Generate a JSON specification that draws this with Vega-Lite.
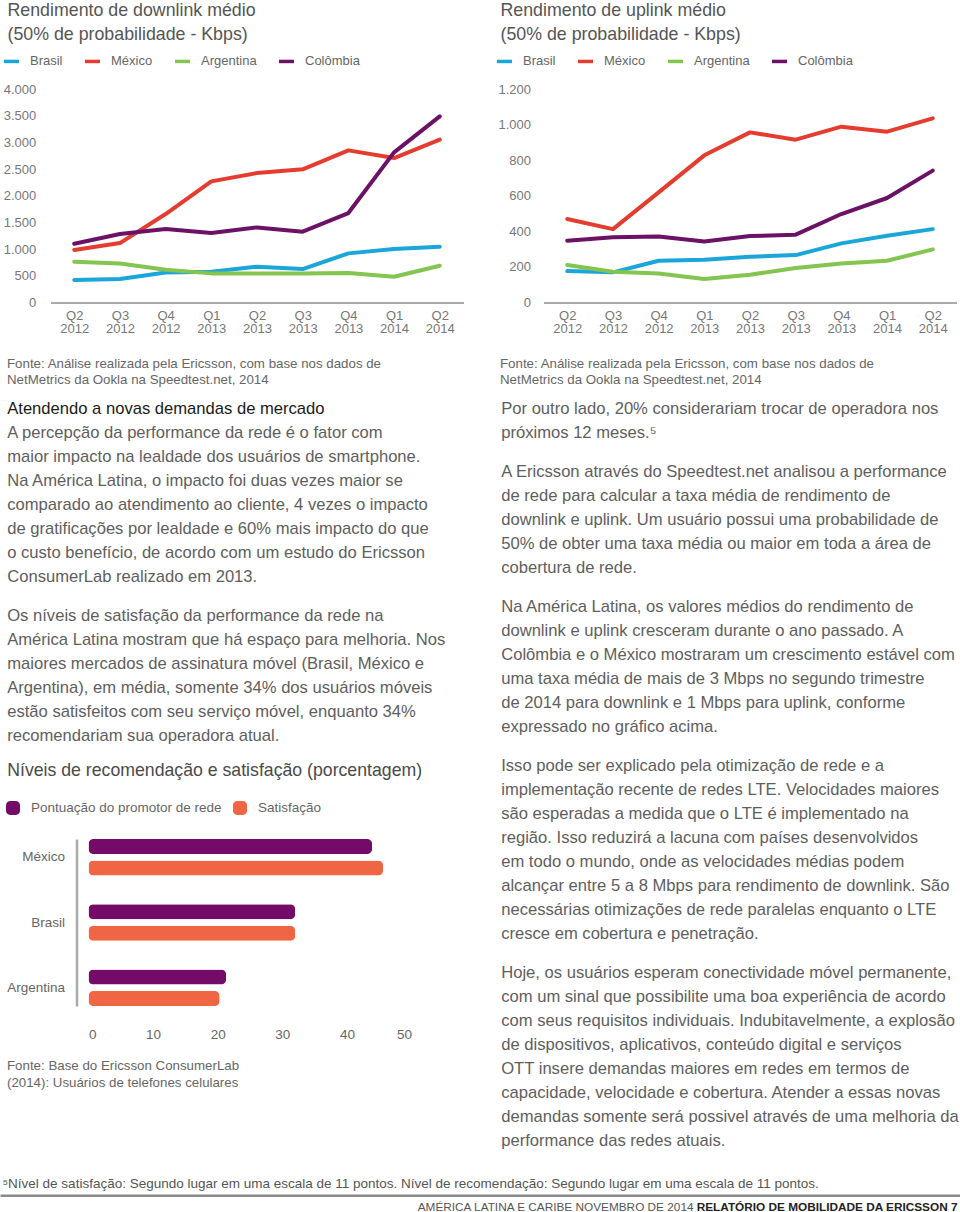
{
  "$schema": "https://vega.github.io/schema/vega-lite/v6.json",
  "padding": {"left": -1.5, "top": 1, "right": 0, "bottom": 0},
  "background": "white",
  "config": {"view": {"stroke": null}, "font": "Liberation Sans", "axis": {"grid": false}},
  "bounds": "flush",
  "spacing": 0,
  "resolve": {"scale": {"color": "independent"}, "legend": {"color": "independent"}},
  "vconcat": [
    {
      "bounds": "flush",
      "spacing": 0,
      "resolve": {"scale": {"color": "independent"}, "legend": {"color": "independent"}},
      "hconcat": [
        {"width": 50, "height": 10, "data": {"values": [{"v": 1}]}, "mark": {"type": "point", "opacity": 0}, "encoding": {}},
        {
          "width": 413,
          "height": 213.4,
          "title": {"text": ["Rendimento de downlink médio", "(50% de probabilidade - Kbps)"], "anchor": "start", "frame": "group", "dx": -43, "fontSize": 17.8, "fontWeight": "normal", "color": "#555555", "lineHeight": 24, "offset": 8},
          "data": {"values": [
            {"pais": "Brasil", "trimestre": "Q2 2012", "kbps": 419}, {"pais": "Brasil", "trimestre": "Q3 2012", "kbps": 437}, {"pais": "Brasil", "trimestre": "Q4 2012", "kbps": 562}, {"pais": "Brasil", "trimestre": "Q1 2013", "kbps": 575}, {"pais": "Brasil", "trimestre": "Q2 2013", "kbps": 669}, {"pais": "Brasil", "trimestre": "Q3 2013", "kbps": 625}, {"pais": "Brasil", "trimestre": "Q4 2013", "kbps": 919}, {"pais": "Brasil", "trimestre": "Q1 2014", "kbps": 1000}, {"pais": "Brasil", "trimestre": "Q2 2014", "kbps": 1044},
            {"pais": "Argentina", "trimestre": "Q2 2012", "kbps": 762}, {"pais": "Argentina", "trimestre": "Q3 2012", "kbps": 731}, {"pais": "Argentina", "trimestre": "Q4 2012", "kbps": 612}, {"pais": "Argentina", "trimestre": "Q1 2013", "kbps": 544}, {"pais": "Argentina", "trimestre": "Q2 2013", "kbps": 544}, {"pais": "Argentina", "trimestre": "Q3 2013", "kbps": 544}, {"pais": "Argentina", "trimestre": "Q4 2013", "kbps": 550}, {"pais": "Argentina", "trimestre": "Q1 2014", "kbps": 481}, {"pais": "Argentina", "trimestre": "Q2 2014", "kbps": 687},
            {"pais": "México", "trimestre": "Q2 2012", "kbps": 981}, {"pais": "México", "trimestre": "Q3 2012", "kbps": 1112}, {"pais": "México", "trimestre": "Q4 2012", "kbps": 1656}, {"pais": "México", "trimestre": "Q1 2013", "kbps": 2269}, {"pais": "México", "trimestre": "Q2 2013", "kbps": 2425}, {"pais": "México", "trimestre": "Q3 2013", "kbps": 2494}, {"pais": "México", "trimestre": "Q4 2013", "kbps": 2850}, {"pais": "México", "trimestre": "Q1 2014", "kbps": 2706}, {"pais": "México", "trimestre": "Q2 2014", "kbps": 3050},
            {"pais": "Colômbia", "trimestre": "Q2 2012", "kbps": 1100}, {"pais": "Colômbia", "trimestre": "Q3 2012", "kbps": 1281}, {"pais": "Colômbia", "trimestre": "Q4 2012", "kbps": 1375}, {"pais": "Colômbia", "trimestre": "Q1 2013", "kbps": 1300}, {"pais": "Colômbia", "trimestre": "Q2 2013", "kbps": 1406}, {"pais": "Colômbia", "trimestre": "Q3 2013", "kbps": 1325}, {"pais": "Colômbia", "trimestre": "Q4 2013", "kbps": 1675}, {"pais": "Colômbia", "trimestre": "Q1 2014", "kbps": 2812}, {"pais": "Colômbia", "trimestre": "Q2 2014", "kbps": 3487}
          ]},
          "mark": {"type": "line", "strokeWidth": 4, "strokeCap": "round", "strokeJoin": "round"},
          "encoding": {
            "x": {"field": "trimestre", "type": "ordinal", "sort": ["Q2 2012", "Q3 2012", "Q4 2012", "Q1 2013", "Q2 2013", "Q3 2013", "Q4 2013", "Q1 2014", "Q2 2014"], "scale": {"type": "point", "padding": 0.52},
              "axis": {"labelExpr": "split(datum.label, ' ')", "labelAngle": 0, "labelFontSize": 13, "labelColor": "#777777", "labelLineHeight": 13.5, "labelPadding": 7, "ticks": false, "domainColor": "#aaaaaa", "domainWidth": 2,
                "title": ["Fonte: Análise realizada pela Ericsson, com base nos dados de", "NetMetrics da Ookla na Speedtest.net, 2014"], "titleX": -44, "titleY": 54, "titleAlign": "left", "titleAnchor": "start", "titleBaseline": "top", "titleFontWeight": "normal", "titleFontSize": 13.3, "titleColor": "#666666", "titleLineHeight": 16.5}},
            "y": {"field": "kbps", "type": "quantitative", "scale": {"domain": [0, 4000], "nice": false},
              "axis": {"values": [0, 500, 1000, 1500, 2000, 2500, 3000, 3500, 4000], "labelExpr": "replace(format(datum.value, ','), ',', '.')", "domain": false, "ticks": false, "labelPadding": 14.7, "labelFontSize": 13, "labelColor": "#777777", "title": null}},
            "color": {"field": "pais", "type": "nominal", "scale": {"domain": ["Brasil", "México", "Argentina", "Colômbia"], "range": ["#1ba6d9", "#e43d2f", "#84c450", "#6c1266"]},
              "legend": {"orient": "none", "legendX": -48.5, "legendY": -37.3, "direction": "horizontal", "title": null, "symbolType": "stroke", "symbolStrokeWidth": 3.5, "symbolSize": 225, "labelFontSize": 13, "labelColor": "#666666", "labelOffset": 9, "columnPadding": 15}}
          }
        },
        {"width": 80, "height": 10, "data": {"values": [{"v": 1}]}, "mark": {"type": "point", "opacity": 0}, "encoding": {}},
        {
          "width": 413,
          "height": 213.4,
          "title": {"text": ["Rendimento de uplink médio", "(50% de probabilidade - Kbps)"], "anchor": "start", "frame": "group", "dx": -43, "fontSize": 17.8, "fontWeight": "normal", "color": "#555555", "lineHeight": 24, "offset": 8},
          "data": {"values": [
            {"pais": "Brasil", "trimestre": "Q2 2012", "kbps": 176}, {"pais": "Brasil", "trimestre": "Q3 2012", "kbps": 169}, {"pais": "Brasil", "trimestre": "Q4 2012", "kbps": 234}, {"pais": "Brasil", "trimestre": "Q1 2013", "kbps": 240}, {"pais": "Brasil", "trimestre": "Q2 2013", "kbps": 257}, {"pais": "Brasil", "trimestre": "Q3 2013", "kbps": 266}, {"pais": "Brasil", "trimestre": "Q4 2013", "kbps": 332}, {"pais": "Brasil", "trimestre": "Q1 2014", "kbps": 375}, {"pais": "Brasil", "trimestre": "Q2 2014", "kbps": 412},
            {"pais": "Argentina", "trimestre": "Q2 2012", "kbps": 210}, {"pais": "Argentina", "trimestre": "Q3 2012", "kbps": 172}, {"pais": "Argentina", "trimestre": "Q4 2012", "kbps": 163}, {"pais": "Argentina", "trimestre": "Q1 2013", "kbps": 131}, {"pais": "Argentina", "trimestre": "Q2 2013", "kbps": 156}, {"pais": "Argentina", "trimestre": "Q3 2013", "kbps": 193}, {"pais": "Argentina", "trimestre": "Q4 2013", "kbps": 219}, {"pais": "Argentina", "trimestre": "Q1 2014", "kbps": 234}, {"pais": "Argentina", "trimestre": "Q2 2014", "kbps": 298},
            {"pais": "México", "trimestre": "Q2 2012", "kbps": 469}, {"pais": "México", "trimestre": "Q3 2012", "kbps": 412}, {"pais": "México", "trimestre": "Q4 2012", "kbps": 619}, {"pais": "México", "trimestre": "Q1 2013", "kbps": 827}, {"pais": "México", "trimestre": "Q2 2013", "kbps": 956}, {"pais": "México", "trimestre": "Q3 2013", "kbps": 915}, {"pais": "México", "trimestre": "Q4 2013", "kbps": 988}, {"pais": "México", "trimestre": "Q1 2014", "kbps": 960}, {"pais": "México", "trimestre": "Q2 2014", "kbps": 1035},
            {"pais": "Colômbia", "trimestre": "Q2 2012", "kbps": 347}, {"pais": "Colômbia", "trimestre": "Q3 2012", "kbps": 366}, {"pais": "Colômbia", "trimestre": "Q4 2012", "kbps": 371}, {"pais": "Colômbia", "trimestre": "Q1 2013", "kbps": 343}, {"pais": "Colômbia", "trimestre": "Q2 2013", "kbps": 373}, {"pais": "Colômbia", "trimestre": "Q3 2013", "kbps": 381}, {"pais": "Colômbia", "trimestre": "Q4 2013", "kbps": 497}, {"pais": "Colômbia", "trimestre": "Q1 2014", "kbps": 587}, {"pais": "Colômbia", "trimestre": "Q2 2014", "kbps": 741}
          ]},
          "mark": {"type": "line", "strokeWidth": 4, "strokeCap": "round", "strokeJoin": "round"},
          "encoding": {
            "x": {"field": "trimestre", "type": "ordinal", "sort": ["Q2 2012", "Q3 2012", "Q4 2012", "Q1 2013", "Q2 2013", "Q3 2013", "Q4 2013", "Q1 2014", "Q2 2014"], "scale": {"type": "point", "padding": 0.52},
              "axis": {"labelExpr": "split(datum.label, ' ')", "labelAngle": 0, "labelFontSize": 13, "labelColor": "#777777", "labelLineHeight": 13.5, "labelPadding": 7, "ticks": false, "domainColor": "#aaaaaa", "domainWidth": 2,
                "title": ["Fonte: Análise realizada pela Ericsson, com base nos dados de", "NetMetrics da Ookla na Speedtest.net, 2014"], "titleX": -44, "titleY": 54, "titleAlign": "left", "titleAnchor": "start", "titleBaseline": "top", "titleFontWeight": "normal", "titleFontSize": 13.3, "titleColor": "#666666", "titleLineHeight": 16.5}},
            "y": {"field": "kbps", "type": "quantitative", "scale": {"domain": [0, 1200], "nice": false},
              "axis": {"values": [0, 200, 400, 600, 800, 1000, 1200], "labelExpr": "replace(format(datum.value, ','), ',', '.')", "domain": false, "ticks": false, "labelPadding": 13, "labelFontSize": 13, "labelColor": "#777777", "title": null}},
            "color": {"field": "pais", "type": "nominal", "scale": {"domain": ["Brasil", "México", "Argentina", "Colômbia"], "range": ["#1ba6d9", "#e43d2f", "#84c450", "#6c1266"]},
              "legend": {"orient": "none", "legendX": -48.5, "legendY": -37.3, "direction": "horizontal", "title": null, "symbolType": "stroke", "symbolStrokeWidth": 3.5, "symbolSize": 225, "labelFontSize": 13, "labelColor": "#666666", "labelOffset": 9, "columnPadding": 15}}
          }
        }
      ]
    },
    {
      "width": 960,
      "height": 749.4,
      "data": {"values": [
        {"coluna": "esquerda", "paragrafo": 1, "linha": 1, "tipo": "destaque", "texto": "Atendendo a novas demandas de mercado"},
        {"coluna": "esquerda", "paragrafo": 1, "linha": 2, "tipo": "corpo", "texto": "A percepção da performance da rede é o fator com"},
        {"coluna": "esquerda", "paragrafo": 1, "linha": 3, "tipo": "corpo", "texto": "maior impacto na lealdade dos usuários de smartphone."},
        {"coluna": "esquerda", "paragrafo": 1, "linha": 4, "tipo": "corpo", "texto": "Na América Latina, o impacto foi duas vezes maior se"},
        {"coluna": "esquerda", "paragrafo": 1, "linha": 5, "tipo": "corpo", "texto": "comparado ao atendimento ao cliente, 4 vezes o impacto"},
        {"coluna": "esquerda", "paragrafo": 1, "linha": 6, "tipo": "corpo", "texto": "de gratificações por lealdade e 60% mais impacto do que"},
        {"coluna": "esquerda", "paragrafo": 1, "linha": 7, "tipo": "corpo", "texto": "o custo benefício, de acordo com um estudo do Ericsson"},
        {"coluna": "esquerda", "paragrafo": 1, "linha": 8, "tipo": "corpo", "texto": "ConsumerLab realizado em 2013."},
        {"coluna": "esquerda", "paragrafo": 2, "linha": 9, "tipo": "corpo", "texto": "Os níveis de satisfação da performance da rede na"},
        {"coluna": "esquerda", "paragrafo": 2, "linha": 10, "tipo": "corpo", "texto": "América Latina mostram que há espaço para melhoria. Nos"},
        {"coluna": "esquerda", "paragrafo": 2, "linha": 11, "tipo": "corpo", "texto": "maiores mercados de assinatura móvel (Brasil, México e"},
        {"coluna": "esquerda", "paragrafo": 2, "linha": 12, "tipo": "corpo", "texto": "Argentina), em média, somente 34% dos usuários móveis"},
        {"coluna": "esquerda", "paragrafo": 2, "linha": 13, "tipo": "corpo", "texto": "estão satisfeitos com seu serviço móvel, enquanto 34%"},
        {"coluna": "esquerda", "paragrafo": 2, "linha": 14, "tipo": "corpo", "texto": "recomendariam sua operadora atual."},
        {"coluna": "esquerda", "paragrafo": 3, "linha": 15, "tipo": "titulo", "texto": "Níveis de recomendação e satisfação (porcentagem)"},
        {"coluna": "direita", "paragrafo": 1, "linha": 1, "tipo": "corpo", "texto": "Por outro lado, 20%  considerariam trocar de operadora nos"},
        {"coluna": "direita", "paragrafo": 1, "linha": 2, "tipo": "corpo", "texto": "próximos 12 meses.⁵"},
        {"coluna": "direita", "paragrafo": 2, "linha": 3, "tipo": "corpo", "texto": "A Ericsson através do Speedtest.net analisou a performance"},
        {"coluna": "direita", "paragrafo": 2, "linha": 4, "tipo": "corpo", "texto": "de rede para calcular a taxa média de rendimento de"},
        {"coluna": "direita", "paragrafo": 2, "linha": 5, "tipo": "corpo", "texto": "downlink e uplink. Um usuário possui uma probabilidade de"},
        {"coluna": "direita", "paragrafo": 2, "linha": 6, "tipo": "corpo", "texto": "50% de obter uma taxa média ou maior em toda a área de"},
        {"coluna": "direita", "paragrafo": 2, "linha": 7, "tipo": "corpo", "texto": "cobertura de rede."},
        {"coluna": "direita", "paragrafo": 3, "linha": 8, "tipo": "corpo", "texto": "Na América Latina, os valores médios do rendimento de"},
        {"coluna": "direita", "paragrafo": 3, "linha": 9, "tipo": "corpo", "texto": "downlink e uplink cresceram durante o ano passado. A"},
        {"coluna": "direita", "paragrafo": 3, "linha": 10, "tipo": "corpo", "texto": "Colômbia e o México mostraram um crescimento estável com"},
        {"coluna": "direita", "paragrafo": 3, "linha": 11, "tipo": "corpo", "texto": "uma taxa média de mais de 3 Mbps no segundo trimestre"},
        {"coluna": "direita", "paragrafo": 3, "linha": 12, "tipo": "corpo", "texto": "de 2014 para downlink e 1 Mbps para uplink, conforme"},
        {"coluna": "direita", "paragrafo": 3, "linha": 13, "tipo": "corpo", "texto": "expressado no gráfico acima."},
        {"coluna": "direita", "paragrafo": 4, "linha": 14, "tipo": "corpo", "texto": "Isso pode ser explicado pela otimização de rede e a"},
        {"coluna": "direita", "paragrafo": 4, "linha": 15, "tipo": "corpo", "texto": "implementação recente de redes LTE. Velocidades maiores"},
        {"coluna": "direita", "paragrafo": 4, "linha": 16, "tipo": "corpo", "texto": "são esperadas a medida que o LTE é implementado na"},
        {"coluna": "direita", "paragrafo": 4, "linha": 17, "tipo": "corpo", "texto": "região. Isso reduzirá a lacuna com países desenvolvidos"},
        {"coluna": "direita", "paragrafo": 4, "linha": 18, "tipo": "corpo", "texto": "em todo o mundo, onde as velocidades médias podem"},
        {"coluna": "direita", "paragrafo": 4, "linha": 19, "tipo": "corpo", "texto": "alcançar entre 5 a 8 Mbps para rendimento de downlink. São"},
        {"coluna": "direita", "paragrafo": 4, "linha": 20, "tipo": "corpo", "texto": "necessárias otimizações de rede paralelas enquanto o LTE"},
        {"coluna": "direita", "paragrafo": 4, "linha": 21, "tipo": "corpo", "texto": "cresce em cobertura e penetração."},
        {"coluna": "direita", "paragrafo": 5, "linha": 22, "tipo": "corpo", "texto": "Hoje, os usuários esperam conectividade móvel permanente,"},
        {"coluna": "direita", "paragrafo": 5, "linha": 23, "tipo": "corpo", "texto": "com um sinal que possibilite uma boa experiência de acordo"},
        {"coluna": "direita", "paragrafo": 5, "linha": 24, "tipo": "corpo", "texto": "com seus requisitos individuais. Indubitavelmente, a explosão"},
        {"coluna": "direita", "paragrafo": 5, "linha": 25, "tipo": "corpo", "texto": "de dispositivos, aplicativos, conteúdo digital e serviços"},
        {"coluna": "direita", "paragrafo": 5, "linha": 26, "tipo": "corpo", "texto": "OTT insere demandas maiores em redes em termos de"},
        {"coluna": "direita", "paragrafo": 5, "linha": 27, "tipo": "corpo", "texto": "capacidade, velocidade e cobertura. Atender a essas novas"},
        {"coluna": "direita", "paragrafo": 5, "linha": 28, "tipo": "corpo", "texto": "demandas somente será possivel através de uma melhoria da"},
        {"coluna": "direita", "paragrafo": 5, "linha": 29, "tipo": "corpo", "texto": "performance das redes atuais."}
      ]},
      "encoding": {
        "x": {"field": "coluna", "type": "nominal", "scale": {"type": "point", "domain": ["esquerda", "direita"], "range": [6.7, 500.7], "padding": 0}, "axis": null},
        "y": {"field": "linha", "type": "ordinal", "scale": {"type": "point", "domain": [1,2,3,4,5,6,7,8,9,10,11,12,13,14,15,16,17,18,19,20,21,22,23,24,25,26,27,28,29], "range": [305, 977], "padding": 0}, "axis": null},
        "yOffset": {"field": "paragrafo", "type": "quantitative", "scale": {"domain": [0, 1], "range": [0, 15], "zero": false, "nice": false}},
        "text": {"field": "texto"}
      },
      "layer": [
        {"transform": [{"filter": "datum.tipo === 'corpo'"}], "mark": {"type": "text", "align": "left", "baseline": "middle", "fontSize": 16.6, "color": "#5e5e5e"}},
        {"transform": [{"filter": "datum.tipo === 'destaque'"}], "mark": {"type": "text", "align": "left", "baseline": "middle", "fontSize": 16.6, "color": "#1a1a1a"}},
        {"transform": [{"filter": "datum.tipo === 'titulo'"}], "mark": {"type": "text", "align": "left", "baseline": "middle", "fontSize": 17.7, "color": "#4a4a4a", "dy": -4}}
      ]
    },
    {
      "bounds": "flush",
      "spacing": 0,
      "resolve": {"scale": {"color": "independent"}, "legend": {"color": "independent"}},
      "hconcat": [
        {"width": 88, "height": 10, "data": {"values": [{"v": 1}]}, "mark": {"type": "point", "opacity": 0}, "encoding": {}},
        {
          "width": 323,
          "height": 167,
          "data": {"values": [
            {"pais": "México", "metrica": "Pontuação do promotor de rede", "valor": 43.9},
            {"pais": "México", "metrica": "Satisfação", "valor": 45.6},
            {"pais": "Brasil", "metrica": "Pontuação do promotor de rede", "valor": 32},
            {"pais": "Brasil", "metrica": "Satisfação", "valor": 32},
            {"pais": "Argentina", "metrica": "Pontuação do promotor de rede", "valor": 21.3},
            {"pais": "Argentina", "metrica": "Satisfação", "valor": 20.3}
          ]},
          "mark": {"type": "bar", "cornerRadius": 5},
          "encoding": {
            "y": {"field": "pais", "type": "nominal", "sort": ["México", "Brasil", "Argentina"], "scale": {"paddingInner": 0.44, "paddingOuter": 0},
              "axis": {"title": null, "offset": 12, "ticks": false, "labelPadding": 12, "labelFontSize": 13.5, "labelColor": "#666666", "domainColor": "#aaaaaa", "domainWidth": 2.5}},
            "yOffset": {"field": "metrica", "type": "nominal", "sort": ["Pontuação do promotor de rede", "Satisfação"], "scale": {"paddingInner": 0.3, "paddingOuter": 0}},
            "x": {"field": "valor", "type": "quantitative", "scale": {"domain": [0, 50], "nice": false},
              "axis": {"values": [0, 10, 20, 30, 40, 50], "ticks": false, "domain": false, "grid": false, "labelPadding": 21.5, "labelFontSize": 13.5, "labelColor": "#666666",
                "title": ["Fonte: Base do Ericsson ConsumerLab", "(2014): Usuários de telefones celulares"], "titleX": -82, "titleY": 52, "titleAlign": "left", "titleAnchor": "start", "titleBaseline": "top", "titleFontWeight": "normal", "titleFontSize": 13.3, "titleColor": "#666666", "titleLineHeight": 17}},
            "color": {"field": "metrica", "type": "nominal", "scale": {"domain": ["Pontuação do promotor de rede", "Satisfação"], "range": ["#750b68", "#f06543"]},
              "legend": {"orient": "none", "legendX": -82.5, "legendY": -38, "direction": "horizontal", "title": null, "symbolType": "M-1,-0.4A0.6,0.6 0 0 1 -0.4,-1L0.4,-1A0.6,0.6 0 0 1 1,-0.4L1,0.4A0.6,0.6 0 0 1 0.4,1L-0.4,1A0.6,0.6 0 0 1 -1,0.4Z", "symbolSize": 196, "symbolStrokeWidth": 0, "labelFontSize": 13.5, "labelColor": "#666666", "labelOffset": 11, "columnPadding": 11, "labelLimit": 400}}
          }
        }
      ]
    },
    {
      "width": 960,
      "height": 372,
      "data": {"values": [
        {"parte": "nota", "lado": "esquerda", "trecho": "nota", "texto": "⁵Nível de satisfação: Segundo lugar em uma escala de 11 pontos. Nível de recomendação: Segundo lugar em uma escala de 11 pontos."},
        {"parte": "linha", "lado": "esquerda", "trecho": "linha", "texto": ""},
        {"parte": "rodape", "lado": "direita", "trecho": "edicao", "texto": "AMÉRICA LATINA E CARIBE NOVEMBRO DE 2014"},
        {"parte": "rodape", "lado": "direita", "trecho": "relatorio", "texto": "RELATÓRIO DE MOBILIDADE DA ERICSSON 7"}
      ]},
      "encoding": {
        "y": {"field": "parte", "type": "nominal", "scale": {"type": "point", "domain": ["nota", "linha", "rodape"], "range": [345.3, 368.3], "padding": 0}, "axis": null}
      },
      "layer": [
        {"transform": [{"filter": "datum.trecho === 'linha'"}], "mark": {"type": "rule", "color": "#8a8a8a", "strokeWidth": 2.5}},
        {"transform": [{"filter": "datum.trecho === 'nota'"}], "mark": {"type": "text", "align": "left", "baseline": "middle", "fontSize": 13.5, "color": "#555555"},
          "encoding": {"x": {"field": "lado", "type": "nominal", "scale": {"type": "point", "domain": ["esquerda", "direita"], "range": [2, 957], "padding": 0}, "axis": null}, "text": {"field": "texto"}}},
        {"transform": [{"filter": "datum.trecho === 'edicao'"}], "mark": {"type": "text", "align": "right", "baseline": "middle", "fontSize": 11.8, "color": "#555555", "dx": -264},
          "encoding": {"x": {"field": "lado", "type": "nominal", "scale": {"type": "point", "domain": ["esquerda", "direita"], "range": [2, 957], "padding": 0}, "axis": null}, "text": {"field": "texto"}}},
        {"transform": [{"filter": "datum.trecho === 'relatorio'"}], "mark": {"type": "text", "align": "right", "baseline": "middle", "fontSize": 11.8, "fontWeight": "bold", "color": "#222222"},
          "encoding": {"x": {"field": "lado", "type": "nominal", "scale": {"type": "point", "domain": ["esquerda", "direita"], "range": [2, 957], "padding": 0}, "axis": null}, "text": {"field": "texto"}}}
      ]
    }
  ]
}
